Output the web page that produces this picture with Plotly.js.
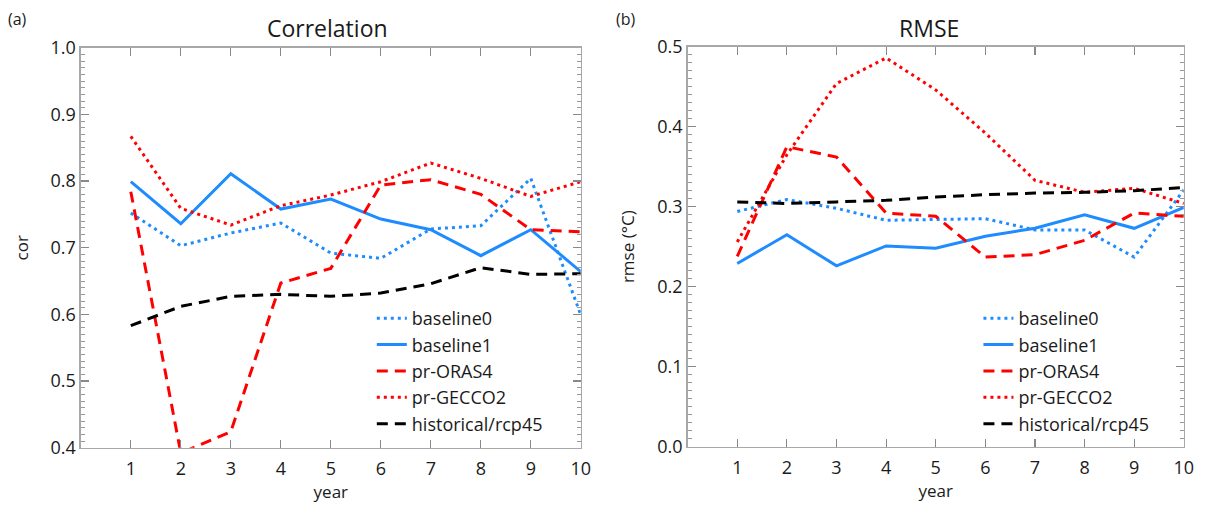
<!DOCTYPE html>
<html>
<head>
<meta charset="utf-8">
<script src="https://cdn.plot.ly/plotly-3.0.1.min.js"></script>
<style>html,body{margin:0;padding:0;background:#fff;}#chart{width:1206px;height:505px;}</style>
</head>
<body>
<div id="chart"></div>
<script>
const years = [1,2,3,4,5,6,7,8,9,10];
const seriesNames = ["baseline0","baseline1","pr-ORAS4","pr-GECCO2","historical/rcp45"];

// Correlation (panel a)
const corBaseline0 = [0.752,0.703,0.722,0.737,0.692,0.684,0.728,0.733,0.804,0.599];
const corBaseline1 = [0.799,0.736,0.811,0.758,0.773,0.743,0.727,0.688,0.727,0.664];
const corORAS4     = [0.784,0.392,0.424,0.647,0.669,0.794,0.802,0.780,0.727,0.724];
const corGECCO2    = [0.867,0.759,0.734,0.763,0.779,0.799,0.827,0.804,0.777,0.799];
const corHist      = [0.583,0.612,0.627,0.630,0.627,0.632,0.646,0.670,0.660,0.661];

// RMSE (panel b)
const rmseBaseline0 = [0.294,0.309,0.298,0.283,0.284,0.285,0.271,0.271,0.237,0.321];
const rmseBaseline1 = [0.229,0.265,0.226,0.251,0.248,0.263,0.273,0.290,0.273,0.299];
const rmseORAS4     = [0.238,0.375,0.362,0.292,0.288,0.237,0.240,0.258,0.292,0.288];
const rmseGECCO2    = [0.256,0.365,0.454,0.486,0.446,0.392,0.333,0.318,0.323,0.304];
const rmseHist      = [0.306,0.304,0.306,0.308,0.312,0.315,0.317,0.318,0.320,0.324];

const xTicks = years;

const BLUE = "rgb(30,140,255)";
const RED = "rgb(255,0,0)";
const BLACK = "rgb(0,0,0)";
const styles = [
  {color: BLUE, dash: "3px,4px", width: 3},
  {color: BLUE, dash: "solid", width: 3},
  {color: RED, dash: "11px,7px", width: 3},
  {color: RED, dash: "3px,4px", width: 3},
  {color: BLACK, dash: "11px,7px", width: 3}
];

const corData = [corBaseline0, corBaseline1, corORAS4, corGECCO2, corHist];
const rmseData = [rmseBaseline0, rmseBaseline1, rmseORAS4, rmseGECCO2, rmseHist];

const traces = [];
corData.forEach((d,i)=>traces.push({x: years, y: d, name: seriesNames[i], type:"scatter", mode:"lines",
  line: styles[i], xaxis:"x", yaxis:"y", legend:"legend"}));
rmseData.forEach((d,i)=>traces.push({x: years, y: d, name: seriesNames[i], type:"scatter", mode:"lines",
  line: styles[i], xaxis:"x2", yaxis:"y2", legend:"legend2"}));

const FONT = "Open Sans, Noto Sans, sans-serif";
const FRAME = "#a8a8a8";
const TXT = "#1a1a1a";
function xax(domain, anchor){
  return {domain: domain, anchor: anchor, range:[0,10], tickmode:"array", tickvals: xTicks, ticks:"inside", ticklen:8, tickwidth:1.2,
    tickcolor:"#888", showline:true, linecolor:FRAME, linewidth:1.5, mirror:"ticks", showgrid:false, zeroline:false,
    tickfont:{family:FONT,size:18,color:TXT}, automargin:false, ticklabelstandoff:4,
    title:{text:"year", font:{family:FONT,size:17,color:TXT}, standoff:5}};
}
function yax(domain, anchor, range, title, standoff){
  return {domain: domain, anchor: anchor, range: range, tickmode:"linear", tick0:0, dtick:0.1, tickformat:".1f",
    ticks:"inside", ticklen:8, tickwidth:1.2, tickcolor:"#888", showline:true, linecolor:FRAME, linewidth:1.5,
    mirror:"ticks", showgrid:false, zeroline:false,
    minor:{dtick:0.01, ticks:"inside", ticklen:4, tickcolor:"#9a9a9a", tickwidth:1, showgrid:false},
    tickfont:{family:FONT,size:18,color:TXT}, automargin:false,
    title:{text: title, font:{family:FONT,size:17,color:TXT}, standoff: standoff}};
}

const legendBase = {font:{family:FONT,size:18,color:TXT}, bgcolor:"rgba(0,0,0,0)", borderwidth:0,
  yanchor:"top", xanchor:"left", tracegroupgap:0};

const layout = {
  width:1206, height:505, margin:{l:0,r:0,t:0,b:0}, paper_bgcolor:"#fff", plot_bgcolor:"#fff",
  showlegend:true,
  xaxis: xax([0.0670,0.4816],"y"),
  yaxis: yax([0.1135,0.9055],"x",[0.4,1.0],"cor",17),
  xaxis2: xax([0.5702,0.9816],"y2"),
  yaxis2: yax([0.1155,0.9075],"x2",[0,0.5],"rmse (°C)",18),
  legend: Object.assign({}, legendBase, {x:0.3083, y:0.406}),
  legend2: Object.assign({}, legendBase, {x:0.8113, y:0.406}),
  annotations:[
    {text:"(a)", xref:"paper", yref:"paper", x:0.005, y:0.962, xanchor:"left", yanchor:"middle", showarrow:false,
     font:{family:FONT,size:16,color:TXT}},
    {text:"(b)", xref:"paper", yref:"paper", x:0.509, y:0.962, xanchor:"left", yanchor:"middle", showarrow:false,
     font:{family:FONT,size:16,color:TXT}},
    {text:"Correlation", xref:"paper", yref:"paper", x:0.2715, y:0.944, xanchor:"center", yanchor:"middle", showarrow:false,
     font:{family:FONT,size:23,color:TXT}},
    {text:"RMSE", xref:"paper", yref:"paper", x:0.7705, y:0.944, xanchor:"center", yanchor:"middle", showarrow:false,
     font:{family:FONT,size:23,color:TXT}}
  ]
};

Plotly.newPlot("chart", traces, layout, {displayModeBar:false, staticPlot:true});
</script>
</body>
</html>
